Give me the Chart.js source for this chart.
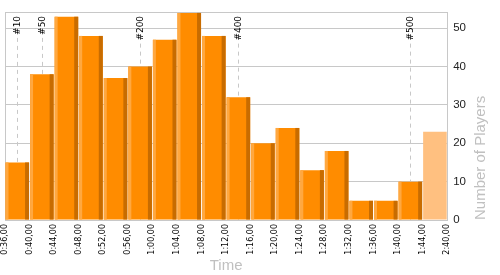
<!DOCTYPE html>
<html>
<head>
<meta charset="utf-8">
<script src="https://cdn.jsdelivr.net/npm/chart.js@4.4.1/dist/chart.umd.min.js"></script>
<style>
  body { margin: 0; background: #fff; }
  #wrap { width: 500px; height: 275px; }
</style>
</head>
<body>
<div id="wrap"><canvas id="myChart" width="500" height="275"></canvas></div>
<script>
// bin boundaries (tick labels)
const timeLabels = ['0:36,00','0:40,00','0:44,00','0:48,00','0:52,00','0:56,00','1:00,00','1:04,00','1:08,00',
    '1:12,00','1:16,00','1:20,00','1:24,00','1:28,00','1:32,00','1:36,00','1:40,00','1:44,00','2:40,00']
// players per bin
const playerCounts = [15, 38, 53, 48, 37, 40, 47, 54, 48, 32, 20, 24, 13, 18, 5, 5, 10, 23]
// rank markers and the bin they fall in
const markerNames = ['#10', '#50', '#200', '#400', '#500']
const markerBins = [0, 1, 5, 9, 16]

const FONT = "'Liberation Sans', Arial, sans-serif"
const GRID = '#c8c8c8'

const barData = playerCounts.map((v, i) => ({ x: i + 0.5, y: v }))
const barColors = playerCounts.map((v, i) => i == playerCounts.length - 1 ? '#ffc080' : '#ff8c00')

// dashed rank lines, drawn behind the bars
const markerPlugin = {
    id: 'markers',
    beforeDatasetsDraw(chart) {
        const { ctx, chartArea, scales } = chart
        ctx.save()
        ctx.font = "9px 'DejaVu Sans', sans-serif"
        markerNames.forEach((name, k) => {
            const x = Math.round(scales.x.getPixelForValue(markerBins[k] + 0.5)) + 0.5
            const w = ctx.measureText(name).width
            ctx.save()
            ctx.translate(x, chartArea.top + 3)
            ctx.rotate(-Math.PI / 2)
            ctx.fillStyle = '#000'
            ctx.textAlign = 'right'
            ctx.textBaseline = 'middle'
            ctx.fillText(name, 0, 0)
            ctx.restore()
            ctx.strokeStyle = GRID
            ctx.lineWidth = 1
            ctx.setLineDash([4, 4])
            ctx.beginPath()
            ctx.moveTo(x, chartArea.top + w + 6)
            ctx.lineTo(x, chartArea.bottom)
            ctx.stroke()
        })
        ctx.restore()
    }
}

// light left edge / dark right edge on each bar
const shadePlugin = {
    id: 'shade',
    afterDatasetsDraw(chart) {
        const { ctx } = chart
        const meta = chart.getDatasetMeta(0)
        ctx.save()
        meta.data.forEach((bar, i) => {
            if (i == meta.data.length - 1) return
            const left = bar.x - bar.width / 2
            const right = bar.x + bar.width / 2
            const h = bar.base - bar.y
            ctx.fillStyle = '#ffa840'
            ctx.fillRect(left, bar.y, 3, h)
            ctx.fillStyle = '#c86c00'
            ctx.fillRect(right - 4, bar.y, 4, h)
        })
        ctx.restore()
    }
}

// y title reads bottom-to-top on the right side
const yTitlePlugin = {
    id: 'ytitle',
    afterDraw(chart) {
        const { ctx, chartArea } = chart
        ctx.save()
        ctx.translate(481, chartArea.bottom)
        ctx.rotate(-Math.PI / 2)
        ctx.font = '15px ' + FONT
        ctx.fillStyle = '#c0c0c0'
        ctx.textAlign = 'left'
        ctx.textBaseline = 'middle'
        ctx.fillText('Number of Players', 0, 0)
        ctx.restore()
    }
}

var myChart = new Chart(document.getElementById('myChart'), {
    type: 'bar',
    data: {
        datasets: [{
            data: barData,
            backgroundColor: barColors,
            borderWidth: 0,
            barPercentage: 0.96,
            categoryPercentage: 1
        }]
    },
    options: {
        responsive: false,
        animation: false,
        layout: { padding: { left: 5, top: 10, right: 28, bottom: 0 } },
        plugins: { legend: { display: false }, tooltip: { enabled: false } },
        scales: {
            x: {
                type: 'linear',
                min: 0,
                max: 18,
                offset: false,
                afterFit: scale => {
                    scale.paddingLeft = 0
                    scale.paddingRight = 0
                    scale.height = 55
                },
                grid: {
                    offset: false,
                    color: ctx => ctx.index == 0 ? GRID : 'transparent',
                    drawTicks: false
                },
                border: { display: false },
                ticks: {
                    stepSize: 1,
                    autoSkip: false,
                    minRotation: 90,
                    maxRotation: 90,
                    padding: 4,
                    color: '#000',
                    font: { family: "'DejaVu Sans', sans-serif", size: 8 },
                    callback: v => timeLabels[v]
                },
                title: {
                    display: true,
                    text: 'Time',
                    color: '#c0c0c0',
                    padding: { top: 0, bottom: 0 },
                    font: { family: FONT, size: 15 }
                }
            },
            y: {
                position: 'right',
                min: 0,
                max: 54,
                grid: { color: GRID, drawTicks: false },
                border: { color: GRID },
                ticks: {
                    stepSize: 10,
                    padding: 6,
                    color: '#222',
                    font: { family: FONT, size: 11.5 },
                    callback: v => v % 10 == 0 ? v : ''
                }
            }
        }
    },
    plugins: [markerPlugin, shadePlugin, yTitlePlugin]
})
</script>
</body>
</html>
